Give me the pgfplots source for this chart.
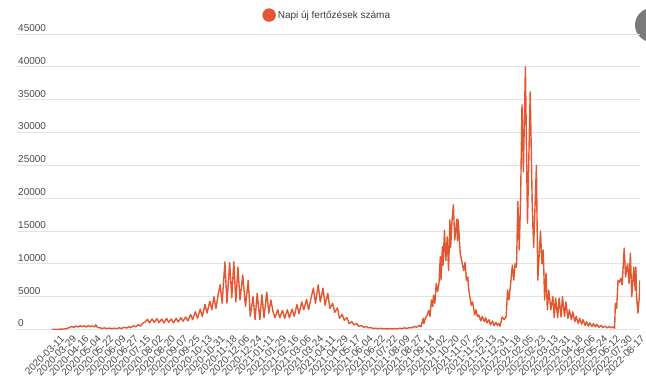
\documentclass[border=0pt]{standalone}
\usepackage{fontspec}
\setmainfont{Liberation Sans}
\usepackage{pgfplots}
\pgfplotsset{compat=1.18}
\usepackage{pgfplotstable}
\definecolor{lineorange}{HTML}{E2572F}
\definecolor{tickgray}{HTML}{4A4A4A}
\definecolor{legendgray}{HTML}{3C3C3C}
\definecolor{gridgray}{HTML}{E3E3E3}
\definecolor{btngray}{HTML}{7A7A7A}
\pgfplotstableread{
idx val
0 5
3 10
6 20
9 30
12 50
15 60
18 80
21 120
23 200
26 350
29 450
32 320
35 520
38 380
41 580
44 420
47 560
50 380
53 600
56 420
59 550
62 380
64 720
66 330
70 260
73 150
77 240
80 130
84 220
87 110
91 200
94 130
98 260
101 160
105 320
109 220
112 420
115 300
119 560
122 400
126 720
129 520
132 950
136 1150
139 1550
142 1000
146 1600
149 1100
153 1650
156 1050
160 1600
163 1000
167 1700
170 1100
174 1600
177 1000
181 1700
184 1150
188 1800
191 1250
195 1900
198 1300
202 2300
205 1500
209 2700
212 1700
216 3100
219 2000
223 3800
226 2500
230 4300
233 3000
236 5000
239 3200
242 5200
245 6800
248 4000
252 10300
255 4000
259 10200
262 4800
265 10300
268 4200
271 9500
274 4500
278 8300
282 3500
286 7500
289 2000
293 5000
296 1500
299 5500
303 1500
306 5300
309 1800
313 5700
316 2500
319 4500
322 2800
325 1800
329 3000
332 1800
336 2900
339 1700
343 3000
346 1800
350 3100
353 2000
357 3800
360 2400
364 4200
367 3000
371 4600
374 3000
378 5000
381 6300
384 4000
388 6800
391 4200
395 6300
398 3700
402 5500
405 3200
409 4000
412 2600
416 3300
419 1700
423 2300
426 1400
430 1800
433 900
437 1200
440 700
444 900
447 500
451 600
454 350
458 450
461 250
465 300
468 150
472 200
475 120
479 180
482 100
486 150
489 80
493 130
496 80
500 150
503 100
507 200
510 120
514 250
517 150
521 300
524 250
528 450
531 350
535 600
538 450
541 1700
542 900
544 1700
547 2200
549 2900
551 2000
553 4500
555 3500
556 5200
558 4000
560 7000
562 5800
564 7000
566 11100
567 7500
569 12600
570 9800
572 15100
574 10500
576 14100
578 9000
580 16700
581 12500
583 16500
585 19000
587 13600
590 16800
591 13500
592 16700
595 11600
598 10000
600 9000
602 10200
604 7500
606 8000
607 6500
609 5000
611 3700
613 4200
616 2200
618 3000
620 2000
622 2200
625 1300
627 2000
630 1200
632 1800
634 1000
637 1500
639 700
642 1300
644 600
647 1100
649 600
651 900
653 500
656 1900
659 1500
662 2000
664 6000
666 4500
668 6500
671 9800
673 7500
675 10000
677 9500
679 19500
681 12100
683 20000
685 34200
687 24000
690 40000
693 16200
697 36200
700 18600
702 12500
706 25000
708 7500
712 15000
714 10000
716 12100
718 4500
720 8600
722 3000
724 6000
727 3000
730 5000
732 1800
734 4800
737 1800
739 4800
742 1900
744 5000
747 2000
749 4200
752 1700
754 3000
757 1500
759 2700
762 1200
764 2000
767 900
769 1700
772 800
774 1500
777 600
779 1200
782 500
784 1000
787 450
789 900
792 400
794 800
797 350
800 600
803 300
806 500
809 250
812 450
815 250
818 400
820 200
821 3800
822 4000
823 3200
825 7500
827 7200
829 7800
831 6800
834 12400
836 8000
838 9500
839 10000
841 7000
843 11600
845 5000
847 8000
848 9500
850 6000
851 9500
852 5000
854 2500
856 5000
857 7500
}\cases

\begin{document}
\begin{tikzpicture}[x=1pt,y=1pt]
\useasboundingbox (0,0) rectangle (646,385);
\fill[btngray] (652,360) circle (17);
\begin{axis}[
  at={(17pt,55.5pt)}, anchor=south west,
  width=623pt, height=295.5pt, scale only axis,
  xmin=-51, xmax=857, ymin=0, ymax=45000,
  ytick={0,5000,...,45000},
  scaled y ticks=false,
  xtick={8,26,...,854},
  xticklabels={2020-03-11,2020-03-29,2020-04-16,2020-05-04,2020-05-22,2020-06-09,2020-06-27,2020-07-15,2020-08-02,2020-08-20,2020-09-07,2020-09-25,2020-10-13,2020-10-31,2020-11-18,2020-12-06,2020-12-24,2021-01-11,2021-01-29,2021-02-16,2021-03-06,2021-03-24,2021-04-11,2021-04-29,2021-05-17,2021-06-04,2021-06-22,2021-07-22,2021-08-09,2021-08-27,2021-09-14,2021-10-02,2021-10-20,2021-11-07,2021-11-25,2021-12-13,2021-12-31,2022-01-18,2022-02-05,2022-02-23,2022-03-13,2022-03-31,2022-04-18,2022-05-06,2022-05-24,2022-06-12,2022-07-30,2022-08-17},
  axis line style={draw=none},
  major tick length=0pt,
  ymajorgrids, grid style={gridgray, line width=0.8pt},
  yticklabel style={anchor=base west, inner sep=0pt, xshift=1pt, yshift=2.5pt, font=\fontsize{10}{12}\selectfont, text=tickgray},
  xticklabel style={rotate=45, anchor=east, inner sep=0pt, yshift=-9pt, xshift=-2pt, font=\fontsize{10}{11}\selectfont, text=tickgray},
  /pgf/number format/1000 sep={},
  /pgf/number format/assume math mode=true,
  legend style={at={(0.498,1.064)}, anchor=center, draw=none, fill=none, inner sep=0pt, font=\fontsize{10}{12}\selectfont, text=legendgray},
  legend image code/.code={\fill[lineorange] (3pt,0pt) circle (6pt);},
]
\addplot[lineorange, line width=1.4pt, line join=round] table[x=idx, y=val] {\cases};
\addlegendentry{Napi új fertőzések száma}
\end{axis}
\end{tikzpicture}
\end{document}
